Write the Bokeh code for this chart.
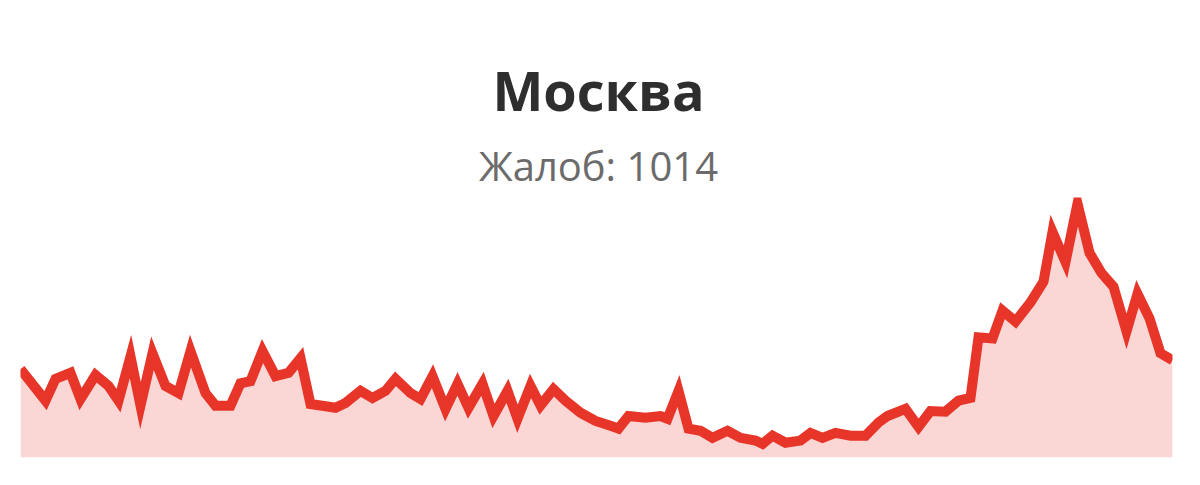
from bokeh.plotting import figure
from bokeh.models import Label, Range1d
from bokeh.layouts import column
from bokeh.embed import file_html
from bokeh.resources import INLINE

# Москва: жалобы по дням (ось X - порядковый номер точки в пикселях шкалы)
city = "Москва"
subtitle = "Жалоб: 1014"

pos = [0, 25, 35, 50, 60, 75, 88, 98, 110, 120, 132, 145, 158, 170, 185, 195,
       210, 220, 230, 242, 255, 268, 280, 290, 315, 325, 340, 352, 365, 375,
       390, 400, 412, 425, 437, 448, 462, 473, 487, 497, 510, 520, 533, 545,
       560, 575, 590, 598, 608, 625, 640, 647, 658, 668, 680, 692, 707, 720,
       735, 742, 752, 765, 780, 790, 802, 815, 830, 845, 858, 867, 885, 898,
       910, 925, 938, 950, 958, 972, 982, 995, 1010, 1023, 1032, 1045, 1057,
       1069, 1081, 1093, 1106, 1117, 1129, 1140, 1152]
vals = [16.2, 10.4, 14.4, 15.5, 10.7, 15.1, 13.1, 10.4, 18.5, 9.5, 19.1, 13.1,
        11.8, 19.5, 11.8, 9.5, 9.5, 13.6, 14.0, 19.5, 14.9, 15.5, 18.2, 9.8,
        9.1, 10.0, 12.2, 10.9, 12.2, 14.4, 11.8, 10.7, 14.9, 8.9, 13.5, 9.1,
        13.5, 7.6, 12.2, 7.1, 13.1, 9.5, 12.5, 10.4, 8.2, 6.7, 5.8, 5.3, 7.6,
        7.3, 7.6, 7.1, 12.2, 5.3, 4.9, 3.6, 4.9, 3.6, 3.1, 2.5, 4.0, 2.7, 3.1,
        4.5, 3.6, 4.5, 4.0, 4.0, 6.4, 7.6, 8.9, 5.6, 8.5, 8.4, 10.4, 10.9,
        22.0, 21.8, 26.9, 24.9, 28.4, 32.2, 41.3, 35.8, 46.5, 37.5, 33.8,
        31.3, 23.1, 30.0, 25.5, 19.1, 17.8]

W = 1184
TOP_H = 197   # заголовок
BOT_H = 272   # график (пик обрезается по верхнему краю)

# заголовок
head = figure(width=W, height=TOP_H, output_backend="svg", toolbar_location=None,
              min_border=0, x_range=(0, 1), y_range=(0, 1))
head.axis.visible = False
head.grid.visible = False
head.outline_line_color = None
head.add_layout(Label(x=578, y=108, x_units="screen", y_units="screen",
                      text=city, text_align="center", text_baseline="middle",
                      text_font="Open Sans", text_font_style="bold",
                      text_font_size="54px", text_color="#2e2e2e"))
head.add_layout(Label(x=578, y=32, x_units="screen", y_units="screen",
                      text=subtitle, text_align="center", text_baseline="middle",
                      text_font="Open Sans", text_font_size="40px",
                      text_color="#6b6b6b"))

# линия жалоб
p = figure(width=W, height=BOT_H, output_backend="svg", toolbar_location=None,
           min_border_left=20, min_border_right=12, min_border_top=0,
           min_border_bottom=12)
p.x_range = Range1d(pos[0], pos[-1])
ppu = 5.46  # пикселей на единицу
p.y_range = Range1d(0, (BOT_H - 12) / ppu)
p.axis.visible = False
p.grid.visible = False
p.outline_line_color = None

p.varea(x=pos, y1=0, y2=vals, fill_color="#e63329", fill_alpha=0.2)
p.line(pos, vals, line_color="#e8352a", line_width=10, line_join="miter")

layout = column(head, p, spacing=0)
open("out.html", "w").write(file_html(layout, INLINE))
